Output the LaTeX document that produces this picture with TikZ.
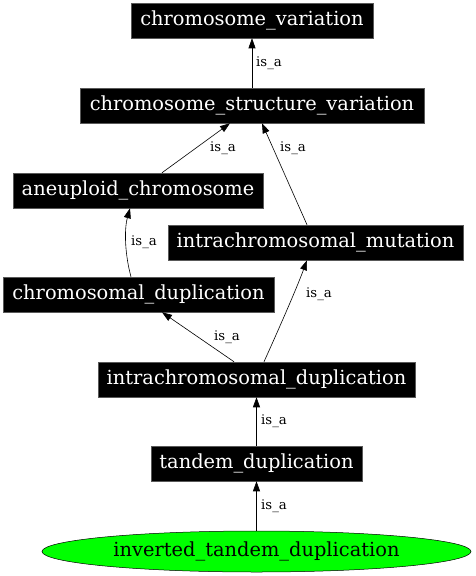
\documentclass[tikz,border=0pt]{standalone}
\usepackage{fontspec}
\setmainfont{DejaVu Serif}
\usetikzlibrary{arrows.meta,shapes.geometric}
\begin{document}
\begin{tikzpicture}[x=1pt,y=-1pt,
  box/.style={fill=black,draw=black!65,line width=0.5pt,text=white,font=\fontsize{19.4}{21}\selectfont,minimum height=35pt,inner sep=0pt},
  ell/.style={ellipse,fill=green,draw=black,line width=0.5pt,font=\fontsize{19.4}{21}\selectfont,minimum width=429pt,minimum height=41pt,inner sep=0pt},
  ed/.style={-{Triangle[length=10pt,width=7pt]},line width=0.6pt,black},
  lab/.style={font=\fontsize{13.3}{15}\selectfont,inner sep=0pt}]
\useasboundingbox (0,0) rectangle (475,576);
\node[box,minimum width=242pt] (cv) at (252,20.5) {chromosome\_variation};
\node[box,minimum width=344pt] (csv) at (252,105.5) {chromosome\_structure\_variation};
\node[box,minimum width=250pt] (an) at (138,190.5) {aneuploid\_chromosome};
\node[box,minimum width=295pt] (im) at (315.5,242.5) {intrachromosomal\_mutation};
\node[box,minimum width=271pt] (cd) at (138.5,294.5) {chromosomal\_duplication};
\node[box,minimum width=317pt] (id) at (256.5,379.5) {intrachromosomal\_duplication};
\node[box,minimum width=211pt] (td) at (256.5,463.5) {tandem\_duplication};
\node[ell] (itd) at (256.5,551.5) {inverted\_tandem\_duplication};

\draw[ed] (csv.north) -- (cv.south);
\node[lab] (l1) at (269,63) {is\_a};
\draw[ed] ([xshift=24pt]an.north) -- ([xshift=-22pt]csv.south);
\node[lab] (l2) at (223,148) {is\_a};
\draw[ed] ([xshift=-8.5pt]im.north) -- ([xshift=10pt]csv.south);
\node[lab] (l3) at (293,148) {is\_a};
\draw[ed] ([xshift=-7.5pt]cd.north) .. controls (125,255) and (124,230) .. ([xshift=-8pt]an.south);
\node[lab] (l4) at (144,242) {is\_a};
\draw[ed] ([xshift=-22.5pt]id.north) -- ([xshift=23.5pt]cd.south);
\node[lab] (l5) at (227,337) {is\_a};
\draw[ed] ([xshift=7.5pt]id.north) .. controls (277,333) and (296,290) .. ([xshift=-8.5pt]im.south);
\node[lab] (l6) at (319,294) {is\_a};
\draw[ed] (td.north) -- (id.south);
\node[lab] (l7) at (274,421) {is\_a};
\draw[ed] (itd.north) -- (td.south);
\node[lab] (l8) at (274,506) {is\_a};
\end{tikzpicture}
\end{document}
